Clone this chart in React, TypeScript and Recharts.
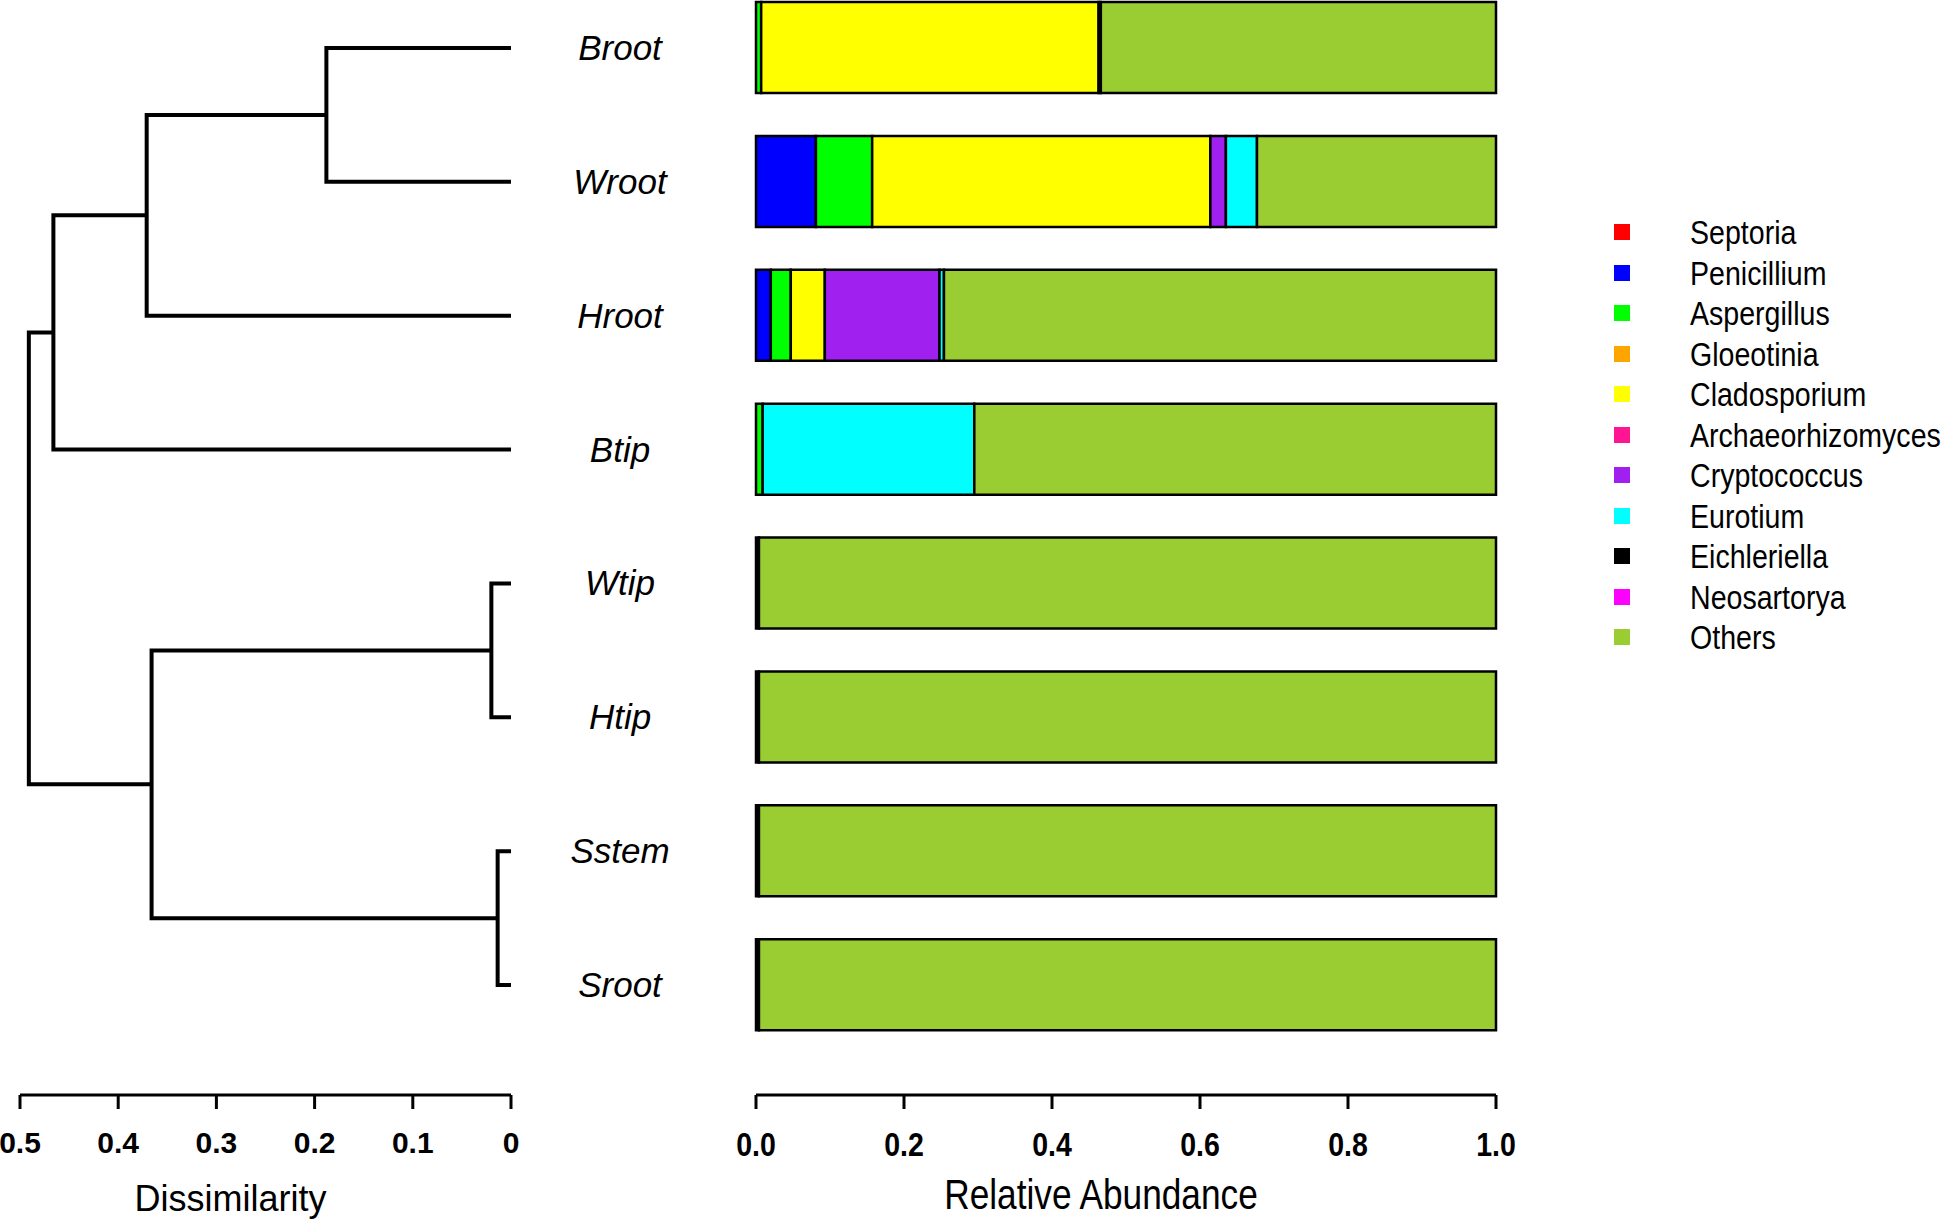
import React from "react";
import { BarChart, Bar, XAxis, YAxis, LineChart, Line } from "recharts";

const SAMPLES = ["Broot", "Wroot", "Hroot", "Btip", "Wtip", "Htip", "Sstem", "Sroot"];

const GENERA = [
  "Septoria",
  "Penicillium",
  "Aspergillus",
  "Gloeotinia",
  "Cladosporium",
  "Archaeorhizomyces",
  "Cryptococcus",
  "Eurotium",
  "Eichleriella",
  "Neosartorya",
  "Others",
];
const GENUS_COLORS = [
  "#FF0000",
  "#0000FF",
  "#00FF00",
  "#FFA500",
  "#FFFF00",
  "#FF1493",
  "#A020F0",
  "#00FFFF",
  "#000000",
  "#FF00FF",
  "#9ACD32",
];

// relative abundance per sample, same order as GENERA
const BROOT = [0, 0, 0.007, 0, 0.456, 0, 0, 0, 0.003, 0, 0.534];
const WROOT = [0, 0.081, 0.076, 0, 0.457, 0, 0.021, 0.042, 0, 0, 0.323];
const HROOT = [0, 0.02, 0.027, 0, 0.046, 0, 0.155, 0.006, 0, 0, 0.746];
const BTIP = [0, 0, 0.009, 0, 0, 0, 0, 0.286, 0, 0, 0.705];
const WTIP = [0, 0, 0, 0, 0, 0, 0, 0, 0.004, 0, 0.996];
const HTIP = [0, 0, 0, 0, 0, 0, 0, 0, 0.004, 0, 0.996];
const SSTEM = [0, 0, 0, 0, 0, 0, 0, 0, 0.004, 0, 0.996];
const SROOT = [0, 0, 0, 0, 0, 0, 0, 0, 0.004, 0, 0.996];
const ABUNDANCE = [BROOT, WROOT, HROOT, BTIP, WTIP, HTIP, SSTEM, SROOT];

const ABUNDANCE_TICKS = [0, 0.2, 0.4, 0.6, 0.8, 1];
const DISSIMILARITY_TICKS = [0, 0.1, 0.2, 0.3, 0.4, 0.5];

// dendrogram merges: two children joined at a dissimilarity height
const MERGES = [
  { id: "BW", a: "Broot", b: "Wroot", h: 0.188 },
  { id: "BWH", a: "BW", b: "Hroot", h: 0.371 },
  { id: "BWHB", a: "BWH", b: "Btip", h: 0.466 },
  { id: "WH", a: "Wtip", b: "Htip", h: 0.02 },
  { id: "SS", a: "Sstem", b: "Sroot", h: 0.0136 },
  { id: "TIPS", a: "WH", b: "SS", h: 0.366 },
  { id: "ROOT", a: "BWHB", b: "TIPS", h: 0.491 },
];

const SANS = "'Liberation Sans', Arial, sans-serif";
// no narrow face installed, so condensed text is squeezed horizontally
const SQUEEZE = 0.84;

const barData = SAMPLES.map((sample, i) => {
  const row: Record<string, string | number> = { sample };
  GENERA.forEach((g, j) => {
    row[g] = ABUNDANCE[i][j];
  });
  return row;
});

function buildDendrogram() {
  const nodes: Record<string, { h: number; pos: number }> = {};
  SAMPLES.forEach((s, i) => {
    nodes[s] = { h: 0, pos: i };
  });
  return MERGES.map((m) => {
    const A = nodes[m.a];
    const B = nodes[m.b];
    nodes[m.id] = { h: m.h, pos: (A.pos + B.pos) / 2 };
    return {
      id: m.id,
      points: [
        { d: A.h, pos: A.pos },
        { d: m.h, pos: A.pos },
        { d: m.h, pos: B.pos },
        { d: B.h, pos: B.pos },
      ],
    };
  });
}

const links = buildDendrogram();

const SampleTick = (props: any) => {
  const { x, y, payload } = props;
  return (
    <text
      x={x - 136}
      y={y + 12}
      textAnchor="middle"
      fontFamily={SANS}
      fontStyle="italic"
      fontSize={35}
      fill="#000"
    >
      {payload.value}
    </text>
  );
};

const AbundanceTick = (props: any) => {
  const { x, y, payload } = props;
  return (
    <text
      transform={`translate(${x},${y + 47}) scale(${SQUEEZE},1)`}
      textAnchor="middle"
      fontFamily={SANS}
      fontWeight={700}
      fontSize={34}
      fill="#000"
    >
      {Number(payload.value).toFixed(1)}
    </text>
  );
};

const axisTitle = (
  value: string,
  dx: number,
  dy: number,
  size: number,
  squeeze: number
) =>
  (props: any) => {
    const vb = props.viewBox;
    return (
      <text
        transform={`translate(${vb.x + vb.width / 2 + dx},${vb.y + dy}) scale(${squeeze},1)`}
        textAnchor="middle"
        fontFamily={SANS}
        fontSize={size}
        fill="#000"
      >
        {value}
      </text>
    );
  };

export default function App() {
  return (
    <div
      style={{
        position: "absolute",
        left: 0,
        top: 0,
        width: 1946,
        height: 1222,
        overflow: "hidden",
        background: "#fff",
      }}
    >
      <div style={{ position: "absolute", left: 0, top: -19 }}>
        <LineChart width={560} height={1244} margin={{ top: 0, right: 49, bottom: 0, left: 20 }}>
          <XAxis
            type="number"
            dataKey="d"
            domain={[0, 0.5]}
            reversed
            ticks={DISSIMILARITY_TICKS}
            tickFormatter={(v: number) => (v === 0 ? "0" : String(v))}
            interval={0}
            height={130}
            tickSize={14}
            tickMargin={23}
            axisLine={{ stroke: "#000", strokeWidth: 3 }}
            tickLine={{ stroke: "#000", strokeWidth: 3 }}
            tick={{ fontFamily: SANS, fontWeight: 700, fontSize: 30, fill: "#000" }}
            label={{ content: axisTitle("Dissimilarity", -35, 116, 36, 1) }}
          />
          <YAxis
            type="number"
            domain={[-0.5, 7.5]}
            reversed
            hide
            width={0}
            padding={{ top: 0, bottom: 43 }}
          />
          {links.map((l) => (
            <Line
              key={l.id}
              data={l.points}
              dataKey="pos"
              type="linear"
              stroke="#000"
              strokeWidth={4}
              strokeLinejoin="miter"
              dot={false}
              activeDot={false}
              isAnimationActive={false}
            />
          ))}
        </LineChart>
      </div>

      <div style={{ position: "absolute", left: 0, top: -19 }}>
        <BarChart
          layout="vertical"
          width={1946}
          height={1244}
          data={barData}
          margin={{ top: 0, right: 450, bottom: 0, left: 500 }}
        >
          <XAxis
            type="number"
            domain={[0, 1]}
            ticks={ABUNDANCE_TICKS}
            interval={0}
            height={130}
            tickSize={14}
            tickMargin={0}
            axisLine={{ stroke: "#000", strokeWidth: 3 }}
            tickLine={{ stroke: "#000", strokeWidth: 3 }}
            tick={<AbundanceTick />}
            label={{ content: axisTitle("Relative Abundance", -25, 114, 42, SQUEEZE) }}
          />
          <YAxis
            type="category"
            dataKey="sample"
            width={256}
            axisLine={false}
            tickLine={false}
            tickSize={0}
            tickMargin={0}
            interval={0}
            tick={<SampleTick />}
            padding={{ top: 0, bottom: 43 }}
          />
          {GENERA.map((g, j) => (
            <Bar
              key={g}
              dataKey={g}
              stackId="a"
              barSize={91}
              fill={GENUS_COLORS[j]}
              stroke="#000"
              strokeWidth={2.5}
              isAnimationActive={false}
            />
          ))}
        </BarChart>
      </div>

      <div style={{ position: "absolute", left: 1614, top: 212 }}>
        {GENERA.map((g, j) => (
          <div
            key={g}
            style={{ display: "flex", alignItems: "center", height: 40.5 }}
          >
            <div style={{ width: 16, height: 16, background: GENUS_COLORS[j] }} />
            <span
              style={{
                display: "inline-block",
                marginLeft: 60,
                fontFamily: SANS,
                fontSize: 34,
                color: "#000",
                lineHeight: 1,
                whiteSpace: "nowrap",
                transform: `scaleX(${SQUEEZE})`,
                transformOrigin: "left center",
              }}
            >
              {g}
            </span>
          </div>
        ))}
      </div>
    </div>
  );
}
